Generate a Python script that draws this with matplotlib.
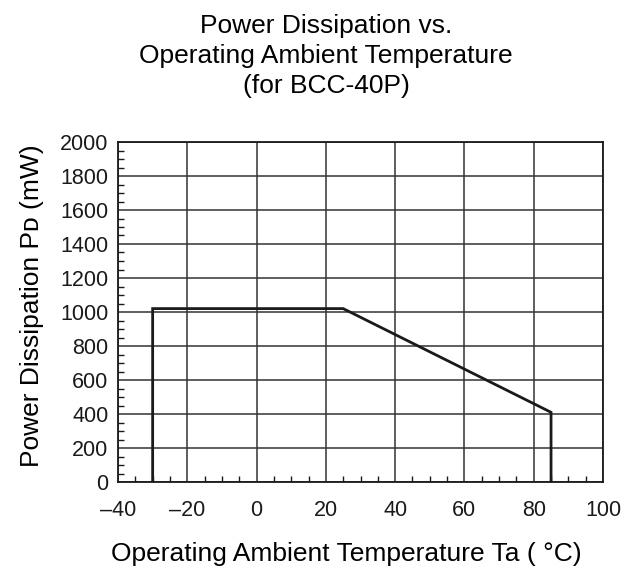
import matplotlib.pyplot as plt
from matplotlib.ticker import MultipleLocator

plt.rcParams['font.family'] = ['Liberation Sans', 'DejaVu Sans']

# derating curve
temp = [-30, -30, 25, 85, 85]
power = [0, 1020, 1020, 410, 0]

x_ticks = [-40, -20, 0, 20, 40, 60, 80, 100]
y_ticks = [0, 200, 400, 600, 800, 1000, 1200, 1400, 1600, 1800, 2000]

fig = plt.figure(figsize=(6.37, 5.72), dpi=100)
ax = fig.add_axes([118/637, 1-482/572, (603-118)/637, (482-142)/572])

ax.plot(temp, power, color='#1a1a1a', lw=2.0, solid_joinstyle='miter', zorder=3)

ax.set_xlim(-40, 100)
ax.set_ylim(0, 2000)
ax.set_xticks(x_ticks)
ax.set_yticks(y_ticks)
ax.set_xticklabels([str(v).replace('-', '\u2013') for v in x_ticks])
ax.xaxis.set_minor_locator(MultipleLocator(5))
ax.yaxis.set_minor_locator(MultipleLocator(50))
ax.tick_params(which='major', length=0, labelsize=15.5, colors='#1a1a1a')
ax.tick_params(axis='x', which='major', pad=13)
ax.tick_params(axis='y', which='major', pad=7)
ax.tick_params(which='minor', direction='in', length=4, width=1, color='#1a1a1a')
ax.grid(True, which='major', color='#333333', lw=1.1)
for s in ax.spines.values():
    s.set_color('#1a1a1a')
    s.set_linewidth(1.3)

ax.set_ylabel('Power Dissipation P\u1d05 (mW)', fontsize=19)
ax.yaxis.set_label_coords(-0.153, 0.518)
ax.set_xlabel('Operating Ambient Temperature Ta ( \u00b0C)', fontsize=19)
ax.xaxis.set_label_coords(0.47, -0.176)

fig.text(326/637, 1-56/572, 'Power Dissipation vs.\nOperating Ambient Temperature\n(for BCC-40P)',
         ha='center', va='center', fontsize=19, linespacing=1.33)

plt.savefig('out.png', dpi=100)
